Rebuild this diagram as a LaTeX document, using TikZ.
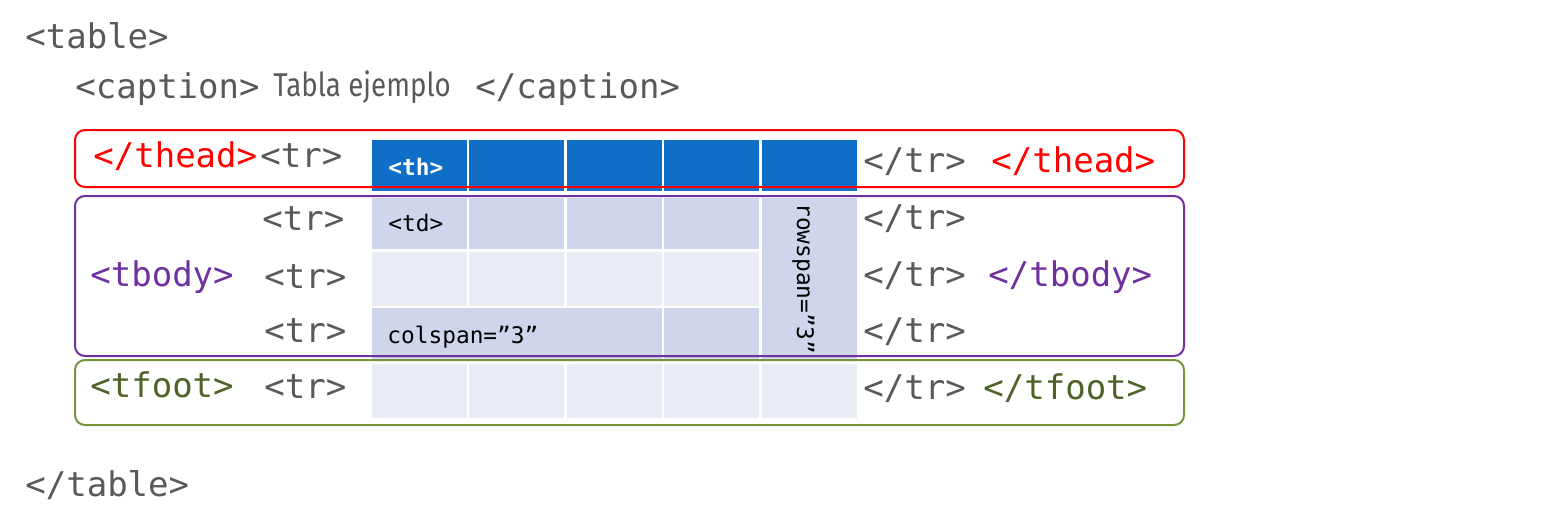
\documentclass[tikz,border=0pt]{standalone}
\usepackage{fontspec}
\setmonofont{DejaVu Sans Mono}
\newfontfamily\capfont[FakeStretch=0.84]{Fira Sans}
\definecolor{tagc}{HTML}{595959}
\definecolor{thc}{HTML}{0F6FC6}
\definecolor{darkc}{HTML}{CFD5EA}
\definecolor{lightc}{HTML}{E9EBF5}
\definecolor{redc}{HTML}{FF0000}
\definecolor{purc}{HTML}{7030A0}
\definecolor{footbox}{HTML}{77933C}
\definecolor{foottext}{HTML}{4F6228}
\begin{document}
\begin{tikzpicture}[x=0.5pt,y=-0.5pt,
  tag/.style={font=\ttfamily\fontsize{17}{20}\selectfont, text=tagc, inner sep=0pt, anchor=base west},
  small/.style={font=\ttfamily\fontsize{11.4}{13}\selectfont, text=black, inner sep=0pt, anchor=base west},
  dcell/.style={fill=darkc}, lcell/.style={fill=lightc}, hcell/.style={fill=thc},
  grp/.style={line width=1pt, rounded corners=5pt}]
\useasboundingbox[fill=white] (0,0) rectangle (1563,530);
% cells
\foreach \a/\b in {372/467,469/564,567/662,664/759,762/857}{
  \fill[hcell] (\a,140) rectangle (\b,191);
  \fill[lcell] (\a,364) rectangle (\b,418);
}
\foreach \a/\b in {372/467,469/564,567/662,664/759}{
  \fill[dcell] (\a,198) rectangle (\b,249);
  \fill[lcell] (\a,252) rectangle (\b,306);
}
\fill[dcell] (372,308) rectangle (662,360);
\fill[dcell] (664,308) rectangle (759,360);
\fill[dcell] (762,198) rectangle (857,360);
% group boxes
\draw[grp, redc] (75,130) rectangle (1184,187);
\draw[grp, purc] (75,196) rectangle (1184,356);
\draw[grp, footbox] (75,360) rectangle (1184,425);
% texts
\node[tag] (t1) at (25,48) {<table>};
\node[tag] (c1) at (75,98) {<caption>};
\node[inner sep=0pt, anchor=base west, text=tagc, font=\capfont\fontsize{16.5}{20}\selectfont] (c2) at (273,96) {Tabla ejemplo};
\node[tag] (c3) at (475,98) {</caption>};
\node[tag, text=redc] (h1) at (93,167) {</thead>};
\node[tag] (h2) at (260,167) {<tr>};
\node[small, text=white, font=\ttfamily\bfseries\fontsize{11.4}{13}\selectfont] (th) at (388,175) {<th>};
\node[tag] (h3) at (863,172) {</tr>};
\node[tag, text=redc] (h4) at (991,172) {</thead>};
\node[tag, text=purc] (b0) at (90,286) {<tbody>};
\node[tag] (b1) at (262,230) {<tr>};
\node[tag] (b2) at (264,288) {<tr>};
\node[tag] (b3) at (264,342) {<tr>};
\node[tag] (e1) at (863,229) {</tr>};
\node[tag] (e2) at (863,286) {</tr>};
\node[tag] (e3) at (863,342) {</tr>};
\node[tag, text=purc] (e0) at (988,286) {</tbody>};
\node[small] (td) at (388,231) {<td>};
\node[small] (cs) at (387,343) {colspan=”3”};
\node[small, rotate=-90] (rs) at (797,203) {rowspan=”3”};
\node[tag, text=foottext] (f0) at (90,397) {<tfoot>};
\node[tag] (f1) at (264,398) {<tr>};
\node[tag] (f2) at (863,399) {</tr>};
\node[tag, text=foottext] (f3) at (983,399) {</tfoot>};
\node[tag] (t2) at (25,496) {</table>};
\end{tikzpicture}
\end{document}
